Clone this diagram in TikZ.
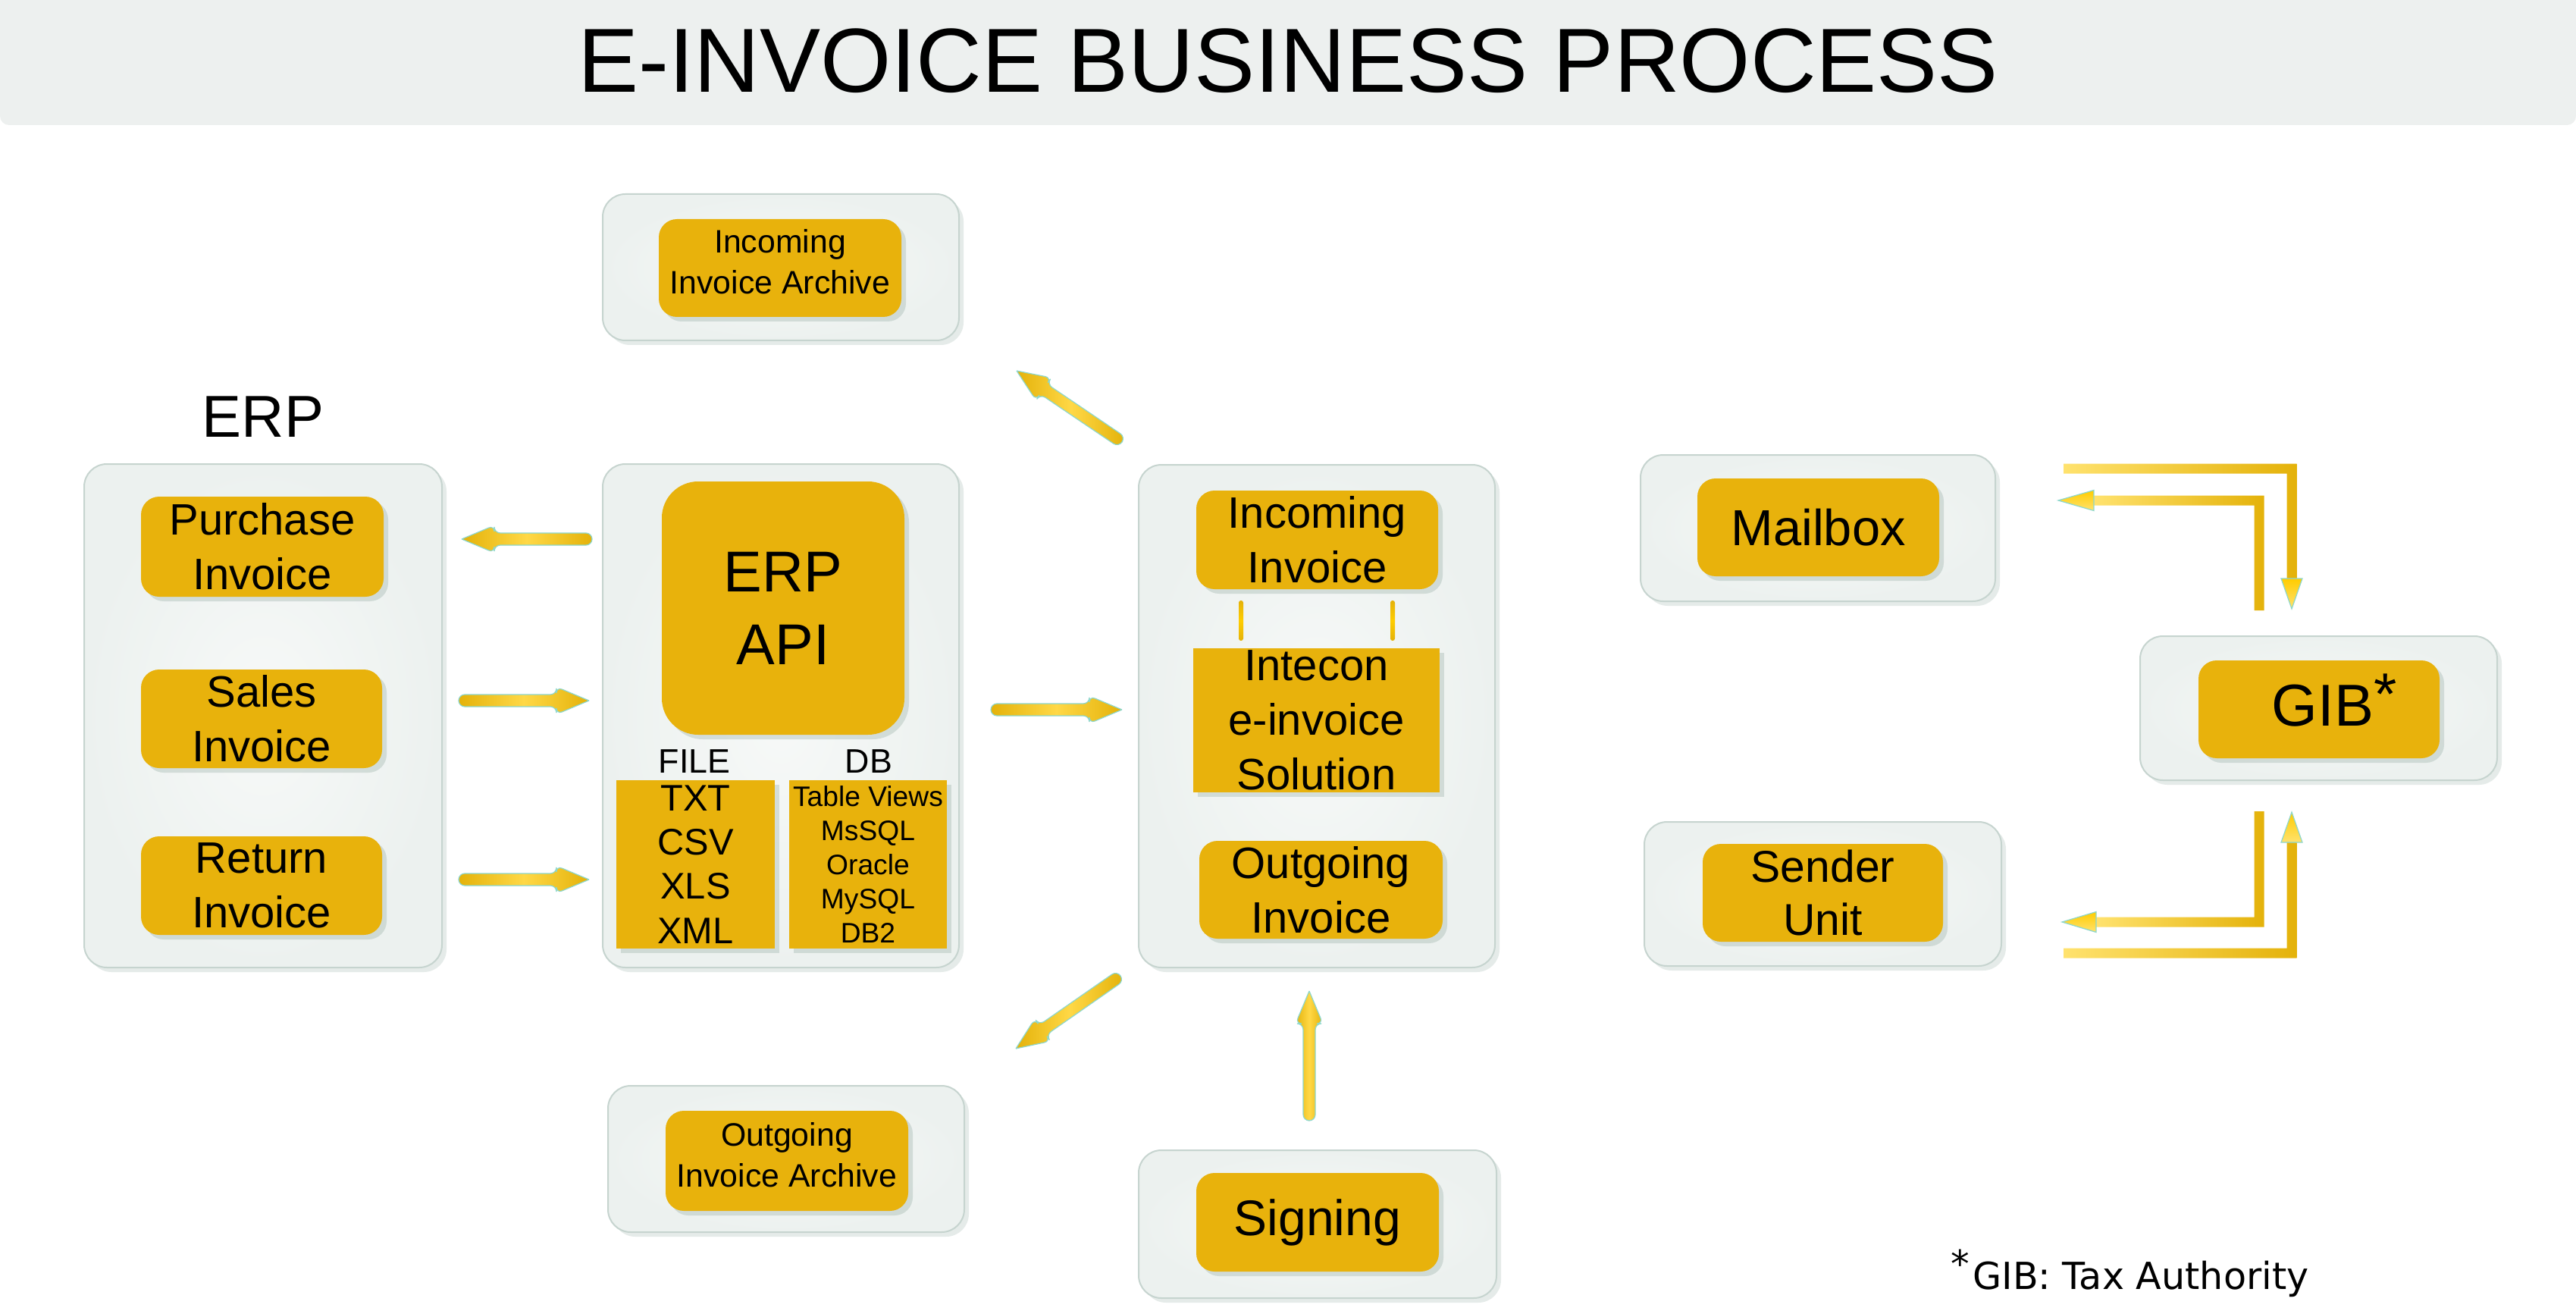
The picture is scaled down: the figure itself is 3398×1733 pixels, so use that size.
\documentclass[tikz,border=0pt]{standalone}
\usepackage{fontspec}
\setmainfont{Liberation Sans}
\newfontfamily\footfont{DejaVu Sans}
\usetikzlibrary{calc,shadows}
\definecolor{gold}{RGB}{232,178,12}
\definecolor{boxbg}{RGB}{236,241,239}
\definecolor{boxin}{RGB}{247,249,248}
\definecolor{boxline}{RGB}{198,212,207}
\definecolor{titlebg}{RGB}{237,240,239}
\definecolor{arrgold}{RGB}{228,178,10}
\definecolor{arryel}{RGB}{255,204,0}
\definecolor{arrmid}{RGB}{255,216,70}
\definecolor{arrlight}{RGB}{255,226,110}
\definecolor{arredge}{RGB}{140,215,205}
\definecolor{shadowc}{RGB}{140,165,155}
\tikzset{
  outerbox/.style={rounded corners=7.5pt, draw=boxline, line width=0.5pt,
    inner color=boxin, outer color=boxbg, inner sep=0pt,
    drop shadow={shadow xshift=1.5pt, shadow yshift=-1.5pt, opacity=0.22, fill=shadowc}},
  goldbox/.style={rounded corners=6pt, fill=gold, inner sep=0pt, align=center,
    drop shadow={shadow xshift=1.5pt, shadow yshift=-1.5pt, opacity=0.3, fill=shadowc}},
  sharpgold/.style={goldbox, rounded corners=0pt},
  arrowfill/.style={left color=arrgold, right color=arrgold, middle color=arrmid, draw=arredge, line width=0.3pt},
  lbarfill/.style={left color=arrlight, middle color=arryel, right color=arrgold},
  headfill/.style={top color=arryel, bottom color=arrlight, draw=arredge, line width=0.3pt},
  lbl/.style={inner sep=0pt, anchor=base},
  midtext/.style={font=\fontsize{14.5}{18}\selectfont},
  archtext/.style={font=\fontsize{10.7}{13.5}\selectfont},
}
% fat arrow from #1 (tail) to #2 (tip)
\newcommand{\fatarr}[2]{%
  \path ($(#2)!10.75pt!(#1)$) coordinate (nk);
  \shade[arrowfill, rounded corners=2pt] (#2) -- ($(nk)!4.5pt!-90:(#1)$) -- ($(nk)!2pt!-90:(#1)$)
    -- ($(#1)!2pt!90:(#2)$) -- ($(#1)!2pt!-90:(#2)$) -- ($(nk)!2pt!90:(#1)$)
    -- ($(nk)!4.5pt!90:(#1)$) -- (#2);
}
\begin{document}
\begin{tikzpicture}[x=0.25pt,y=-0.25pt]
\useasboundingbox (0,0) rectangle (3398,1733);
\fill[white] (0,0) rectangle (3398,1733);
% title bar
\fill[titlebg, rounded corners=3pt] (0,-40) rectangle (3398,165);
\node[lbl, font=\fontsize{30}{36}\selectfont] (title) at (1699,122) {E-INVOICE BUSINESS PROCESS};

% outer boxes
\node[outerbox, minimum width=118pt, minimum height=166pt] (erpbox) at (347,944) {};
\node[outerbox, minimum width=117.5pt, minimum height=166pt] (apibox) at (1030,944) {};
\node[outerbox, minimum width=117.5pt, minimum height=165.75pt] (midbox) at (1737,944.5) {};
\node[outerbox, minimum width=117.5pt, minimum height=48.25pt] (inarchbox) at (1030,352.5) {};
\node[outerbox, minimum width=117.5pt, minimum height=48.25pt] (outarchbox) at (1037,1528.5) {};
\node[outerbox, minimum width=118pt, minimum height=48.75pt] (signbox) at (1738,1614.5) {};
\node[outerbox, minimum width=117pt, minimum height=48.25pt] (mailouter) at (2398,696.5) {};
\node[outerbox, minimum width=117.75pt, minimum height=47.5pt] (senderouter) at (2404.5,1179) {};
\node[outerbox, minimum width=117.75pt, minimum height=47.5pt] (gibouter) at (3058.5,934) {};

% labels
\node[lbl, font=\fontsize{19.5}{24}\selectfont] (erplabel) at (347,576) {ERP};

% ERP column
\node[goldbox, midtext, minimum width=80pt, minimum height=33pt] (purchase) at (346,721) {Purchase\\Invoice};
\node[goldbox, midtext, minimum width=79.5pt, minimum height=32.5pt] (sales) at (345,948) {Sales\\Invoice};
\node[goldbox, midtext, minimum width=79.5pt, minimum height=32.5pt] (return) at (345,1168) {Return\\Invoice};

% ERP API column
\node[goldbox, rounded corners=12pt, font=\fontsize{19}{24}\selectfont, minimum width=80pt, minimum height=83.5pt] (api) at (1033,802) {ERP\\API};
\node[lbl, font=\fontsize{11.2}{13}\selectfont] (filelabel) at (916,1019) {FILE};
\node[lbl, font=\fontsize{11.2}{13}\selectfont] (dblabel) at (1146,1019) {DB};
\node[sharpgold, font=\fontsize{12.2}{14.6}\selectfont, minimum width=52.25pt, minimum height=55.5pt] (filebox) at (917.5,1140) {TXT\\CSV\\XLS\\XML};
\node[sharpgold, font=\fontsize{9.3}{11.3}\selectfont, minimum width=52pt, minimum height=55.5pt] (dbbox) at (1145,1140) {Table Views\\MsSQL\\Oracle\\MySQL\\DB2};

% archives
\node[goldbox, archtext, minimum width=80pt, minimum height=32.25pt] (inarch) at (1029,353.5) {Incoming\\Invoice Archive\rule[-4.4pt]{0pt}{0pt}};
\node[goldbox, archtext, minimum width=80pt, minimum height=33pt] (outarch) at (1038,1531) {Outgoing\\Invoice Archive\rule[-4pt]{0pt}{0pt}};

% middle column
\node[goldbox, midtext, minimum width=79.75pt, minimum height=32.5pt] (incoming) at (1737.5,712) {Incoming\\Invoice};
\node[sharpgold, midtext, minimum width=81.25pt, minimum height=47.5pt] (intecon) at (1736.5,950) {Intecon\\e-invoice\\Solution};
\node[goldbox, midtext, minimum width=80.25pt, minimum height=32.25pt] (outgoing) at (1742.5,1173.5) {Outgoing\\Invoice};
\node[goldbox, font=\fontsize{16.5}{20}\selectfont, minimum width=80pt, minimum height=32.5pt] (signing) at (1738,1612) {Signing};

% right side
\node[goldbox, font=\fontsize{16.7}{20}\selectfont, minimum width=79.75pt, minimum height=32.25pt] (mailbox) at (2398.5,695.5) {Mailbox};
\node[goldbox, font=\fontsize{14.7}{17.3}\selectfont, minimum width=79.25pt, minimum height=32.25pt] (sender) at (2404.5,1177.5) {Sender\\Unit};
\node[goldbox, minimum width=79.5pt, minimum height=32.25pt] (gib) at (3059,935.5) {};
\node[inner sep=0pt, anchor=base west, font=\fontsize{19.5}{24}\selectfont] (gibtxt) at (2996,957) {GIB\raisebox{3.75pt}{*}};

% footnote
\node[inner sep=0pt, anchor=base west, font=\footfont\fontsize{12.3}{15}\selectfont] (footnote) at (2573,1700) {\raisebox{4pt}{*}\kern1pt GIB: Tax Authority};

% small connector bars between Incoming Invoice and Intecon
\coordinate (bar1t) at (1637,792); \coordinate (bar1b) at (1637,845);
\coordinate (bar2t) at (1837,792); \coordinate (bar2b) at (1837,845);
\shade[top color=arrgold, bottom color=arrgold, middle color=arryel, rounded corners=0.7pt]
  ($(bar1t)+(-3,0)$) rectangle ($(bar1b)+(3,0)$);
\shade[top color=arrgold, bottom color=arrgold, middle color=arryel, rounded corners=0.7pt]
  ($(bar2t)+(-3,0)$) rectangle ($(bar2b)+(3,0)$);

% fat arrows
\coordinate (a1s) at (781,711);  \coordinate (a1e) at (609,711);
\coordinate (a2s) at (605,924);  \coordinate (a2e) at (777,924);
\coordinate (a3s) at (605,1160); \coordinate (a3e) at (777,1160);
\coordinate (a4s) at (1307,936); \coordinate (a4e) at (1480,936);
\coordinate (a5s) at (1480,583); \coordinate (a5e) at (1341,489);
\coordinate (a6s) at (1478,1287); \coordinate (a6e) at (1340,1383);
\coordinate (a7s) at (1727,1478); \coordinate (a7e) at (1727,1307);
\fatarr{a1s}{a1e}
\fatarr{a2s}{a2e}
\fatarr{a3s}{a3e}
\fatarr{a4s}{a4e}
\fatarr{a5s}{a5e}
\fatarr{a6s}{a6e}
\fatarr{a7s}{a7e}

% Mailbox <-> GIB connectors
\coordinate (ot1) at (2722,618); \coordinate (ot2) at (3023,618); \coordinate (ot3) at (3023,803);
\shade[lbarfill] ($(ot1)+(0,-6.5)$) -- ($(ot2)+(6.5,-6.5)$) -- ($(ot3)+(6.5,-40)$) -- ($(ot3)+(-6.5,-40)$)
  -- ($(ot2)+(-6.5,6.5)$) -- ($(ot1)+(0,6.5)$) -- cycle;
\shade[headfill] ($(ot3)+(-14,-40)$) -- (ot3) -- ($(ot3)+(14,-40)$) -- cycle;

\coordinate (it1) at (2980,805); \coordinate (it2) at (2980,660); \coordinate (it3) at (2715,660);
\shade[lbarfill] ($(it1)+(-6.5,0)$) -- ($(it2)+(-6.5,6.5)$) -- ($(it3)+(47,6.5)$) -- ($(it3)+(47,-6.5)$)
  -- ($(it2)+(6.5,-6.5)$) -- ($(it1)+(6.5,0)$) -- cycle;
\shade[headfill] ($(it3)+(47,-13.5)$) -- (it3) -- ($(it3)+(47,13.5)$) -- cycle;

% Sender Unit <-> GIB connectors
\coordinate (ib1) at (2980,1070); \coordinate (ib2) at (2980,1216); \coordinate (ib3) at (2720,1216);
\shade[lbarfill] ($(ib1)+(-6.5,0)$) -- ($(ib2)+(-6.5,-6.5)$) -- ($(ib3)+(45,-6.5)$) -- ($(ib3)+(45,6.5)$)
  -- ($(ib2)+(6.5,6.5)$) -- ($(ib1)+(6.5,0)$) -- cycle;
\shade[headfill] ($(ib3)+(45,-13.5)$) -- (ib3) -- ($(ib3)+(45,13.5)$) -- cycle;

\coordinate (ob1) at (2722,1257); \coordinate (ob2) at (3023,1257); \coordinate (ob3) at (3023,1071);
\shade[lbarfill] ($(ob1)+(0,6.5)$) -- ($(ob2)+(6.5,6.5)$) -- ($(ob3)+(6.5,40)$) -- ($(ob3)+(-6.5,40)$)
  -- ($(ob2)+(-6.5,-6.5)$) -- ($(ob1)+(0,-6.5)$) -- cycle;
\shade[headfill] ($(ob3)+(-14,40)$) -- (ob3) -- ($(ob3)+(14,40)$) -- cycle;
\end{tikzpicture}
\end{document}
